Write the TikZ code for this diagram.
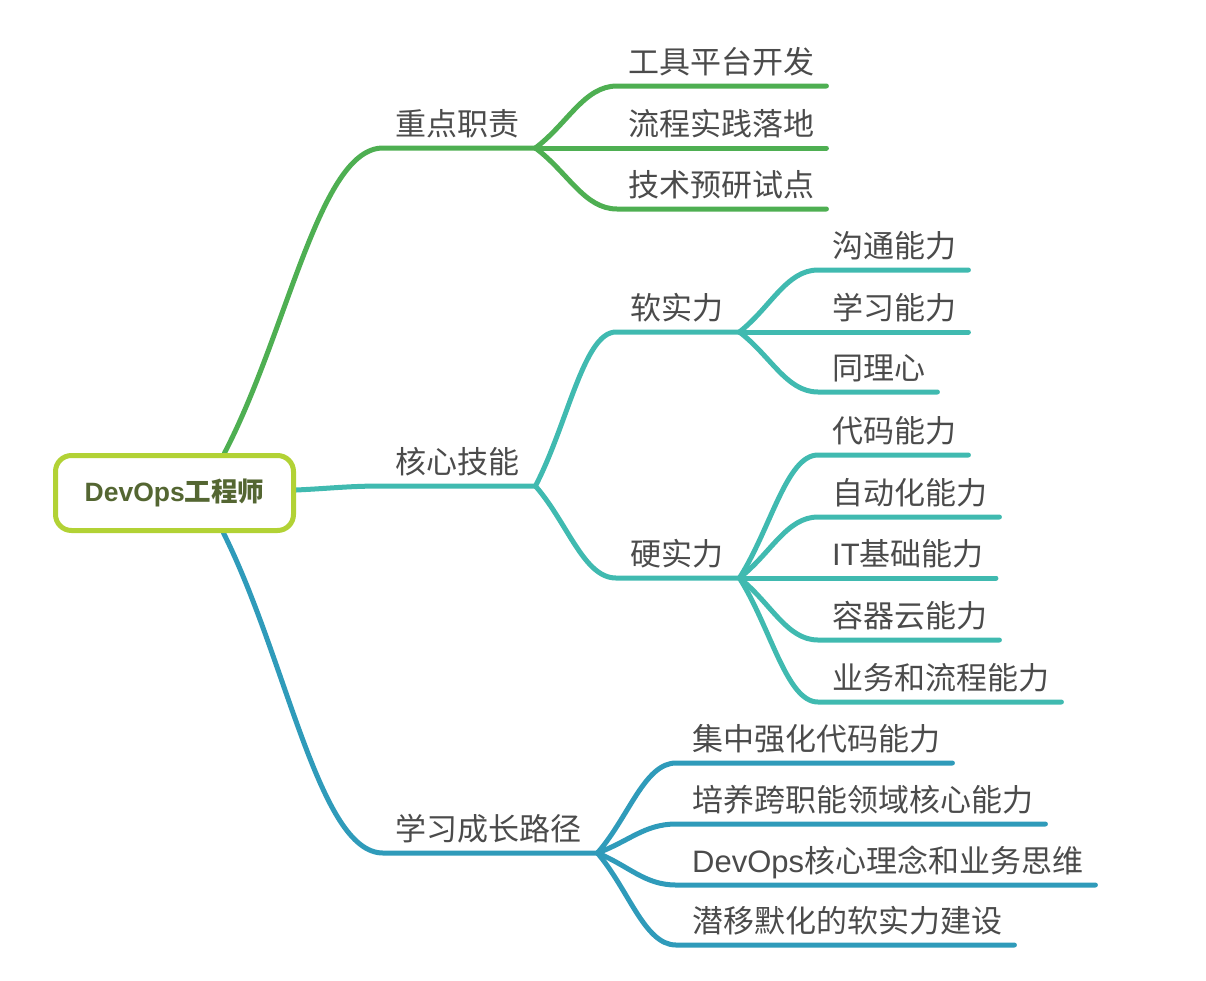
\documentclass[tikz,border=0pt]{standalone}
\usepackage{fontspec}
\setmainfont{Noto Sans CJK SC}
\newfontfamily\lat{Liberation Sans}
\usetikzlibrary{calc,backgrounds}
\definecolor{gcol}{HTML}{4EAF52}
\definecolor{tcol}{HTML}{40BAB0}
\definecolor{bcol}{HTML}{2F9BBA}
\definecolor{rborder}{HTML}{B2D235}
\definecolor{rtext}{HTML}{546632}
\definecolor{txt}{HTML}{4B4B4B}
\tikzset{
  lbl/.style={font=\fontsize{31pt}{31pt}\selectfont, text=txt, inner sep=0pt,
    text depth=12pt, text height=26pt, anchor=south west},
  rootbox/.style={draw=rborder, line width=5pt, rounded corners=16pt, fill=white,
    minimum width=238pt, minimum height=75pt, inner sep=0pt, text=rtext,
    font=\fontsize{26.5pt}{26.5pt}\selectfont\bfseries},
  conn/.style={line width=5pt, line cap=round, line join=round},
  gl/.style={conn, draw=gcol},
  tl/.style={conn, draw=tcol},
  bl/.style={conn, draw=bcol},
  brc/.style={to path={.. controls ($(\tikztostart)!0.4!(\tikztotarget)$) and ($(\tikztotarget)!0.4!(\tikztostart |- \tikztotarget)$) .. (\tikztotarget) \tikztonodes}}
}
\begin{document}
\begin{tikzpicture}[x=1pt,y=-1pt]
\useasboundingbox (0,0) rectangle (1206,980);
% root
\node[rootbox] (root) at (174.5,493) {{\lat DevOps}工程师};
\coordinate (rtop) at ([xshift=50pt]root.north);
\coordinate (rbot) at ([xshift=49pt]root.south);
\coordinate (reast) at ([yshift=3pt]root.east);
% level 1
\node[lbl] (k1) at (395,148) {重点职责};
\node[lbl] (k2) at (395,486) {核心技能};
\node[lbl] (k3) at (395,853) {学习成长路径};
% level 2 under k1
\node[lbl] (a1) at (628,86) {工具平台开发};
\node[lbl] (a2) at (628,148) {流程实践落地};
\node[lbl] (a3) at (628,209) {技术预研试点};
% level 2 under k2
\node[lbl] (s1) at (630,332) {软实力};
\node[lbl] (s2) at (630,578) {硬实力};
% level 3 under s1
\node[lbl] (r1) at (832,270) {沟通能力};
\node[lbl] (r2) at (832,332) {学习能力};
\node[lbl] (r3) at (832,392) {同理心};
% level 3 under s2
\node[lbl] (h1) at (832,455) {代码能力};
\node[lbl] (h2) at (832,517) {自动化能力};
\node[lbl] (h3) at (832,578) {{\lat IT}基础能力};
\node[lbl] (h4) at (832,640) {容器云能力};
\node[lbl] (h5) at (832,702) {业务和流程能力};
% level 2 under k3
\node[lbl] (p1) at (692,763) {集中强化代码能力};
\node[lbl] (p2) at (692,824) {培养跨职能领域核心能力};
\node[lbl] (p3) at (692,885) {{\lat DevOps}核心理念和业务思维};
\node[lbl] (p4) at (692,945) {潜移默化的软实力建设};
% connector coordinates
\foreach \n/\s/\e in {k1/12/16,k2/12/16,k3/12/16,s1/14/16,s2/14/16,
  a1/11/12,a2/11/12,a3/11/12,r1/14/12,r2/14/12,r3/14/12,
  h1/14/12,h2/14/12,h3/14/12,h4/14/12,h5/14/12,
  p1/16/12,p2/16/12,p3/16/12,p4/16/12}{
  \coordinate (\n h) at ([xshift=-\s pt]\n.south west);
  \coordinate (\n e) at ([xshift=\e pt]\n.south east);
}
\begin{pgfonlayer}{background}
% root to level 1
\draw[gl] (rtop) to[brc] (k1h) -- (k1e);
\draw[tl] (reast) to[brc] (k2h) -- (k2e);
\draw[bl] (rbot) to[brc] (k3h) -- (k3e);
% k1 children
\foreach \c in {a1,a2,a3}{\draw[gl] (k1e) to[brc] (\c h) -- (\c e);}
% k2 children
\foreach \c in {s1,s2}{\draw[tl] (k2e) to[brc] (\c h) -- (\c e);}
\foreach \c in {r1,r2,r3}{\draw[tl] (s1e) to[brc] (\c h) -- (\c e);}
\foreach \c in {h1,h2,h3,h4,h5}{\draw[tl] (s2e) to[brc] (\c h) -- (\c e);}
% k3 children
\foreach \c in {p1,p2,p3,p4}{\draw[bl] (k3e) to[brc] (\c h) -- (\c e);}
\end{pgfonlayer}
\end{tikzpicture}
\end{document}
